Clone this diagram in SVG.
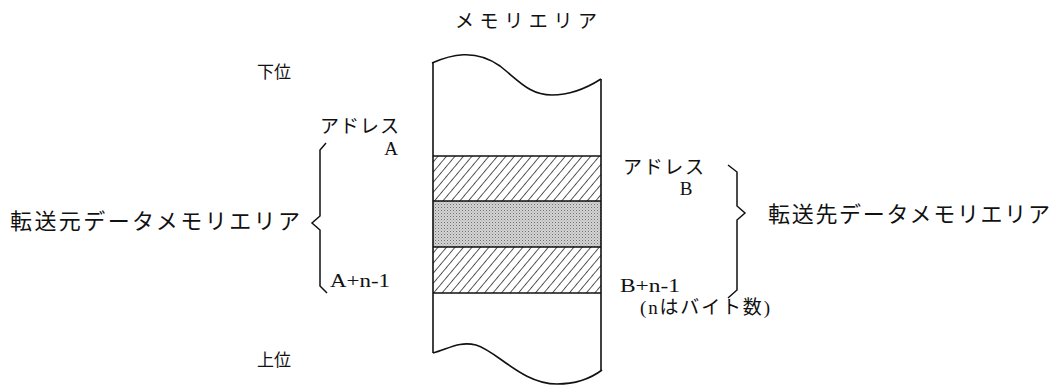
<svg xmlns="http://www.w3.org/2000/svg" width="1060" height="387" viewBox="0 0 1060 387">
<style>
.jp{font-family:"Noto Sans CJK JP",sans-serif;font-size:19px;fill:#111}
.big{font-size:22px}
.sm{font-size:17px}
.lat{font-family:"Liberation Serif","Noto Sans CJK JP",serif;font-size:19px;fill:#111}
.ln{fill:none;stroke:#111;stroke-width:1.6}
.br{fill:none;stroke:#111;stroke-width:1.5;stroke-linejoin:miter}
</style>
<defs>
<pattern id="hatch" patternUnits="userSpaceOnUse" width="6.5" height="6.5" patternTransform="rotate(40)">
<line x1="0" y1="0" x2="0" y2="6.5" stroke="#111" stroke-width="1.4"/>
</pattern>
<pattern id="dots" patternUnits="userSpaceOnUse" width="3" height="3">
<rect width="3" height="3" fill="#d4d4d4"/>
<rect x="0" y="0" width="1" height="1" fill="#6e6e6e"/>
<rect x="1.5" y="1.5" width="1" height="1" fill="#999"/>
</pattern>
</defs>
<rect width="1060" height="387" fill="#fff"/>
<g id="memory">
<rect x="433" y="156" width="168" height="45" fill="url(#hatch)"/>
<rect x="433" y="201" width="168" height="46" fill="url(#dots)"/>
<rect x="433" y="247" width="168" height="46" fill="url(#hatch)"/>
<path class="ln" d="M432,63 C450,55 475,48 500,66 C520,82 530,95 552,95 C572,95 590,86 601,79"/>
<path class="ln" d="M433,63 L433,353"/>
<path class="ln" d="M601,79 L601,370"/>
<path class="ln" d="M433,156 H601 M433,201 H601 M433,247 H601 M433,293 H601"/>
<path class="ln" d="M433,353 C450,348 460,341 476,345 C497,351 522,384 557,384 C580,384 594,376 602,370"/>
</g>
<g id="labels">
<text class="jp" x="455" y="28" textLength="142" lengthAdjust="spacing">メモリエリア</text>
<text class="jp sm" x="257" y="78">下位</text>
<text class="jp sm" x="257" y="366">上位</text>
</g>
<g id="source">
<text class="jp" x="320" y="133" textLength="79" lengthAdjust="spacing">アドレス</text>
<text class="lat" x="391" y="155" text-anchor="middle">A</text>
<text class="lat" x="330" y="287" textLength="60" lengthAdjust="spacingAndGlyphs">A+n-1</text>
<text class="jp big" x="10" y="229" textLength="290" lengthAdjust="spacing">転送元データメモリエリア</text>
</g>
<g id="dest">
<text class="jp" x="623" y="174" textLength="81" lengthAdjust="spacing">アドレス</text>
<text class="lat" x="686" y="195" text-anchor="middle">B</text>
<text class="lat" x="620" y="292" textLength="60" lengthAdjust="spacingAndGlyphs">B+n-1</text>
<text class="lat" x="640" y="314" textLength="130" lengthAdjust="spacing">(nはバイト数)</text>
<text class="jp big" x="768" y="222" textLength="282" lengthAdjust="spacing">転送先データメモリエリア</text>
</g>
<g id="connectors">
<path class="br" d="M326,143 L320,150 L320,216 L312,223 L320,230 L320,286 L327,293"/>
<path class="br" d="M728,165 L737,172 L737,206 L745,213 L737,220 L737,290 L728,298"/>
</g>
</svg>
